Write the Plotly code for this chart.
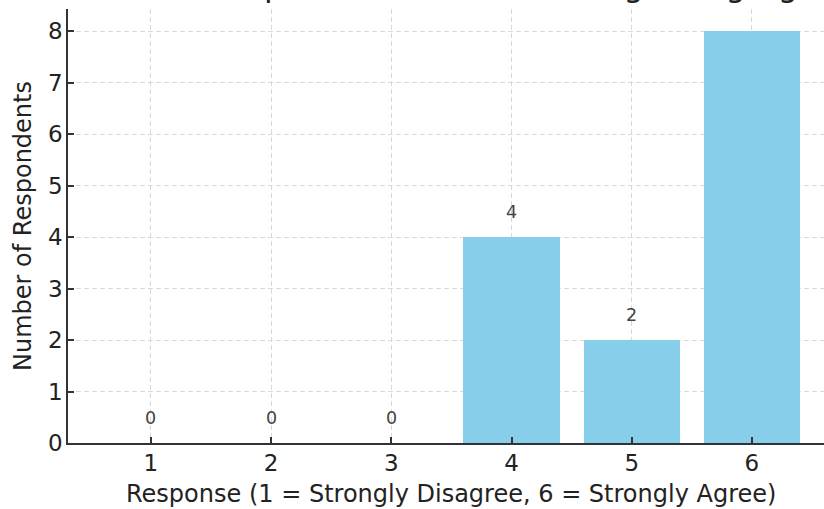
import plotly.graph_objects as go

# Survey tally: respondents per response level
responses = [1, 2, 3, 4, 5, 6]
counts = [0, 0, 0, 4, 2, 8]

title_text = "Distribution of Responses to Question Regarding Agreement"
x_title = "Response (1 = Strongly Disagree, 6 = Strongly Agree)"
y_title = "Number of Respondents"

FONT = "DejaVu Sans"
AXIS_COLOR = "#333333"
GRID_COLOR = "#d9d9d9"

fig = go.Figure(
    go.Bar(
        x=responses,
        y=counts,
        width=0.8,
        marker=dict(color="#87CEEB", line=dict(width=0)),
        hoverinfo="skip",
    )
)

# value labels above each bar
for r, c in zip(responses, counts):
    fig.add_annotation(
        x=r, y=c + 0.48, text=str(c), showarrow=False,
        xanchor="center", yanchor="middle",
        font=dict(family=FONT, size=17.5, color="#444444"),
    )

# chart title sits mostly above the visible area
fig.add_annotation(
    xref="paper", yref="paper", x=0.5, y=1.0, xshift=5,
    xanchor="center", yanchor="bottom", yshift=3,
    text=title_text, showarrow=False,
    font=dict(family=FONT, size=32, color="#222222"),
)

# x-axis title, centred on the full axes span
fig.add_annotation(
    xref="paper", yref="paper", x=0.5, y=0, xshift=5, yshift=-51,
    xanchor="center", yanchor="middle",
    text=x_title, showarrow=False,
    font=dict(family=FONT, size=24, color="#222222"),
)

axis_common = dict(
    showline=True, linecolor=AXIS_COLOR, linewidth=1.5,
    ticks="inside", ticklen=6, tickwidth=1.5, tickcolor=AXIS_COLOR,
    showgrid=True, gridcolor=GRID_COLOR, gridwidth=1.2, griddash="5px,3px",
    zeroline=False,
    tickfont=dict(family=FONT, size=23, color="#222222"),
    title_font=dict(family=FONT, size=24, color="#222222"),
)

fig.update_xaxes(
    range=[0.31, 6.6], tickmode="array", tickvals=responses,
    ticktext=[str(r) for r in responses],
    ticklabelstandoff=-1,
    **axis_common,
)
fig.update_yaxes(
    range=[0, 8.43], tickmode="array", tickvals=list(range(0, 9)),
    ticklabelstandoff=-1,
    title_text=y_title, title_standoff=10,
    **axis_common,
)

fig.update_layout(
    width=824, height=509,
    margin=dict(l=68, r=0, t=9, b=66),
    plot_bgcolor="white", paper_bgcolor="white",
    showlegend=False, bargap=0,
)

fig.write_html("out.html")
